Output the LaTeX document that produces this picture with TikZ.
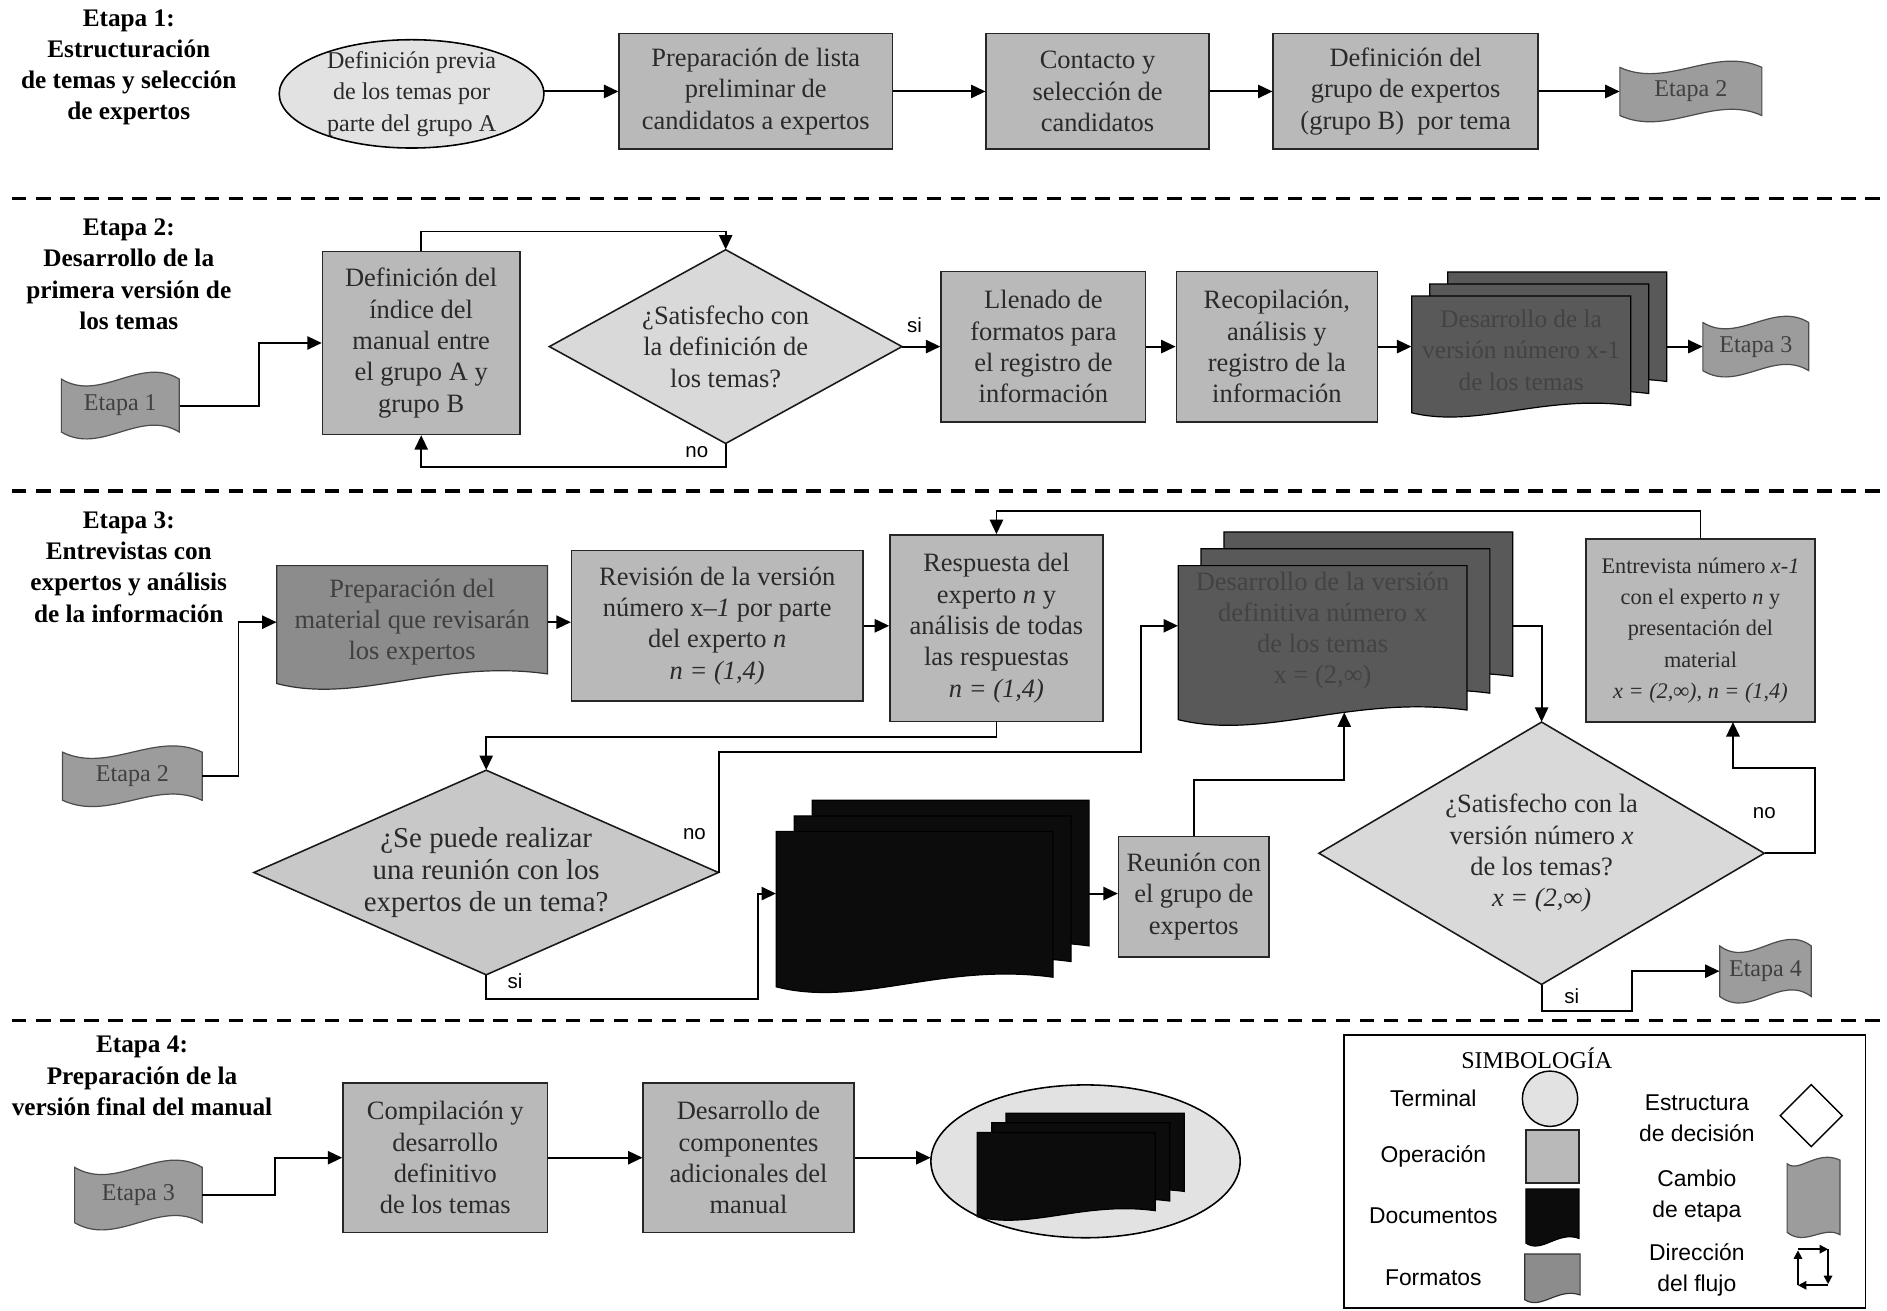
\documentclass[tikz,border=0pt]{standalone}
\usepackage{fontspec}
\setmainfont{Liberation Serif}
\newfontfamily\lsans{Liberation Sans}
\usetikzlibrary{shapes.geometric,arrows.meta,calc}
\definecolor{opgray}{HTML}{B9B9B9}
\definecolor{termgray}{HTML}{E2E2E2}
\definecolor{decgray}{HTML}{D9D9D9}
\definecolor{decdark}{HTML}{C8C8C8}
\definecolor{flaggray}{HTML}{9C9C9C}
\definecolor{docgray}{HTML}{8C8C8C}
\definecolor{mdgray}{HTML}{595959}
\definecolor{mdtext}{HTML}{434343}
\definecolor{ink}{HTML}{2A2A2A}
\definecolor{blackdoc}{HTML}{0C0C0C}
\tikzset{
  txt/.style={font=\fontsize{22}{26}\selectfont, align=center, text=ink},
  opbox/.style={txt, rectangle, draw=black!85, line width=1.3pt, fill=opgray, inner sep=1pt},
  ttl/.style={font=\bfseries\fontsize{21}{26}\selectfont, align=center},
  lab/.style={font=\lsans\fontsize{17}{20}\selectfont},
  leglab/.style={font=\lsans\fontsize{19}{26}\selectfont, align=center},
  flagsty/.style={draw=black!70, line width=1pt, fill=flaggray},
  flagtxt/.style={font=\fontsize{20}{24}\selectfont, text=black!75, inner sep=0pt},
  docsty/.style={draw=black!80, line width=1pt, fill=docgray},
  mdsty/.style={draw=black, line width=1pt, fill=mdgray},
  blksty/.style={draw=black, line width=1pt, fill=blackdoc},
  arr/.style={line width=1.6pt, -{Triangle[length=12pt,width=11pt]}},
  smallarr/.style={line width=1.4pt, -{Triangle[length=7pt,width=7pt]}},
  sep/.style={line width=2.6pt, dash pattern=on 12pt off 8pt},
}
% flag shape: name cx cy w h text
\newcommand\flagsh[6]{%
  \filldraw[flagsty] ({#2-#4/2},{#3-#5/2}) .. controls ({#2-#4/6},{#3-#5/2+0.45*#5}) and ({#2+#4/6},{#3-#5/2-0.45*#5}) .. ({#2+#4/2},{#3-#5/2})
    -- ({#2+#4/2},{#3+#5/2}) .. controls ({#2+#4/6},{#3+#5/2-0.45*#5}) and ({#2-#4/6},{#3+#5/2+0.45*#5}) .. ({#2-#4/2},{#3+#5/2}) -- cycle;
  \node[flagtxt, minimum width=#4pt, minimum height=#5pt] (#1) at (#2,#3) {#6};}
% document sheet: L T R B a style
\newcommand\docsh[6]{%
  \filldraw[#6] ({#1},{#2}) -- ({#3},{#2}) -- ({#3},{#4-#5})
    .. controls ({#1+0.6*(#3-(#1))},{#4-2.6*#5}) and ({#1+0.3*(#3-(#1))},{#4+2.2*#5}) .. ({#1},{#4}) -- cycle;}
% multi document: name L T R B dx dy a style
\newcommand\mdoc[9]{%
  \docsh{#2+2*#6}{#3}{#4}{#5-2*#7}{#8}{#9}
  \docsh{#2+#6}{#3+#7}{#4-#6}{#5-#7}{#8}{#9}
  \docsh{#2}{#3+2*#7}{#4-2*#6}{#5}{#8}{#9}
  \node[inner sep=0pt, minimum width={(#4)-(#2)}, minimum height={(#5)-(#3)}] (#1) at ({(#2+#4)/2},{(#3+#5)/2}) {};}
% decision: name cx cy w h fill nodeopts text
\newcommand\decsh[8]{%
  \filldraw[line width=1.3pt, draw=black!90, fill=#6] ({#2},{#3-#5/2}) -- ({#2+#4/2},{#3}) -- ({#2},{#3+#5/2}) -- ({#2-#4/2},{#3}) -- cycle;
  \node[txt, inner sep=0pt, minimum width=#4pt, minimum height=#5pt, #7] (#1) at (#2,#3) {#8};}
\begin{document}
\begin{tikzpicture}[x=1pt,y=-1pt]
\useasboundingbox (0,0) rectangle (1568,1089);
\fill[white] (0,0) rectangle (1568,1089);

% ---------------- separators
\draw[sep] (10,165) -- (1562,165);
\draw[sep] (10,408) -- (1562,408);
\draw[sep] (10,848) -- (1562,848);

% ---------------- Etapa 1
\node[ttl] (h1) at (107,56) {Etapa 1:\\Estructuración\\de temas y selección\\de expertos};
\filldraw[line width=1.3pt, fill=termgray] (342,78) ellipse [x radius=110, y radius=45];
\node[txt, inner sep=0pt, minimum width=220pt, minimum height=88pt, font=\fontsize{20}{26}\selectfont] (t1) at (342,78) {Definición previa\\de los temas por\\parte del grupo A};
\node[opbox, minimum width=227pt, minimum height=96pt] (b1) at (628,76) {Preparación de lista\\preliminar de\\candidatos a expertos};
\node[opbox, minimum width=185pt, minimum height=96pt] (b2) at (912,76) {Contacto y\\selección de\\candidatos};
\node[opbox, minimum width=220pt, minimum height=96pt] (b3) at (1168,76) {Definición del\\grupo de expertos\\(grupo B)\ \ por tema};
\flagsh{f2}{1405}{76}{118}{40}{Etapa 2}
\draw[arr] (t1.east |- b1.west) -- (b1.west);
\draw[arr] (b1.east) -- (b2.west);
\draw[arr] (b2.east) -- (b3.west);
\draw[arr] (b3.east) -- (f2.west);

% ---------------- Etapa 2
\node[ttl] (h2) at (107,228) {Etapa 2:\\Desarrollo de la\\primera versión de\\los temas};
\flagsh{f1}{100}{337}{98}{44}{Etapa 1}
\node[opbox, minimum width=164pt, minimum height=152pt] (b4) at (350,285) {Definición del\\índice del\\manual entre\\el grupo A y\\grupo B};
\decsh{d1}{603}{288}{293}{161}{decgray}{}{¿Satisfecho con\\la definición de\\los temas?}
\node[opbox, minimum width=170pt, minimum height=125pt] (b5) at (867,288) {Llenado de\\formatos para\\el registro de\\información};
\node[opbox, minimum width=167pt, minimum height=125pt] (b6) at (1061,288) {Recopilación,\\análisis y\\registro de la\\información};
\mdoc{md1}{1173}{226}{1385}{343}{15}{10}{6}{mdsty}
\node[txt, text=mdtext, font=\fontsize{21}{26}\selectfont] (md1t) at (1264,291) {Desarrollo de la\\versión número x-1\\de los temas};
\flagsh{f3}{1459}{288}{88}{40}{Etapa 3}
\draw[arr] (f1.east) -- ++(66,0) |- (b4.west);
\draw[arr] (b4.north) -- ++(0,-16) -| (d1.north);
\draw[arr] (d1.south) -- ++(0,19) -| (b4.south);
\draw[arr] (d1.east) -- (b5.west);
\draw[arr] (b5.east) -- (b6.west);
\draw[arr] (b6.east) -- (b6.east -| md1.west);
\draw[arr] (md1.east |- f3.west) -- (f3.west);
\node[lab] (si1) at (760,270) {si};
\node[lab] (no1) at (579,376) {no};

% ---------------- Etapa 3
\node[ttl] (h3) at (107,471) {Etapa 3:\\Entrevistas con\\expertos y análisis\\de la información};
\flagsh{f2b}{110}{645}{116}{40}{Etapa 2}
\docsh{230}{470}{455}{568}{8}{docsty}
\node[txt, inner sep=0pt, minimum width=225pt, minimum height=90pt, text=black!75] (doc1) at (342.5,517) {Preparación del\\material que revisarán\\los expertos};
\node[opbox, minimum width=242pt, minimum height=125pt] (b7) at (596,520) {Revisión de la versión\\número x–\textit{1} por parte\\del experto \textit{n}\\\textit{n = (1,4)}};
\node[opbox, minimum width=177pt, minimum height=155pt] (b8) at (828,522) {Respuesta del\\experto \textit{n} y\\análisis de todas\\las respuestas\\\textit{n = (1,4)}};
\mdoc{md2}{979}{442}{1257}{598}{19}{14}{8}{mdsty}
\node[txt, text=mdtext] (md2t) at (1099,524) {Desarrollo de la versión\\definitiva número x\\de los temas\\x = (2,∞)};
\coordinate (md2in) at (1117,592);
\node[opbox, minimum width=190pt, minimum height=152pt, font=\fontsize{18.5}{26}\selectfont] (b9) at (1413,524) {Entrevista número \textit{x-1}\\con el experto \textit{n} y\\presentación del\\material\\\textit{x = (2,∞), n = (1,4)}};
\coordinate (b9in) at (1440,600);
\decsh{d2}{404}{725}{386}{170}{decdark}{font=\fontsize{24}{26.5}\selectfont}{¿Se puede realizar\\una reunión con los\\expertos de un tema?}
\mdoc{md3}{645}{665}{905}{820}{15}{13}{8}{blksty}
\node[opbox, minimum width=125pt, minimum height=100pt] (b10) at (992,745) {Reunión con\\el grupo de\\expertos};
\decsh{d3}{1281}{709}{370}{218}{decgray}{}{¿Satisfecho con la\\versión número \textit{x}\\de los temas?\\\textit{x = (2,∞)}}
\flagsh{f4}{1467}{807}{76}{42}{Etapa 4}

\draw[arr] (f2b.east) -- ++(30,0) |- (doc1.west);
\draw[arr] (doc1.east) -- (doc1.east -| b7.west);
\draw[arr] (b7.east) -- (b7.east -| b8.west);
\draw[arr] (b9.north) -- ++(0,-23) -| (b8.north);
\draw[arr] (b8.south) -- ++(0,12) -| (d2.north);
\draw[arr] (d2.east) |- (948,625) |- (md2.west);
\draw[arr] (d2.south) |- (630,830) |- (md3.west);
\draw[arr] (md3.east) -- (md3.east -| b10.west);
\draw[arr] (b10.north) |- (1117,648) -- (md2in);
\draw[arr] (md2.east) -| (d3.north);
\draw[arr] (d3.east) -| (1508,638) -| (b9in);
\draw[arr] (d3.south) |- (1356,840) |- (f4.west);
\node[lab] (no2) at (577,693) {no};
\node[lab] (si2) at (428,815) {si};
\node[lab] (no3) at (1466,676) {no};
\node[lab] (si3) at (1306,828) {si};

% ---------------- Etapa 4
\node[ttl] (h4) at (118,894) {Etapa 4:\\Preparación de la\\versión final del manual};
\flagsh{f3b}{115}{993}{106}{46}{Etapa 3}
\node[opbox, minimum width=170pt, minimum height=124pt] (b11) at (370,962) {Compilación y\\desarrollo\\definitivo\\de los temas};
\node[opbox, minimum width=175pt, minimum height=124pt] (b12) at (622,962) {Desarrollo de\\componentes\\adicionales del\\manual};
\filldraw[line width=1.3pt, fill=termgray] (902,965) ellipse [x radius=128.5, y radius=63.5];
\node[inner sep=0pt, minimum width=257pt, minimum height=127pt] (e2) at (902,965) {};
\mdoc{md4}{812}{925}{984}{1011}{12}{8}{5}{blksty}
\draw[arr] (f3b.east) -- ++(60,0) |- (b11.west);
\draw[arr] (b11.east) -- (b11.east -| b12.west);
\draw[arr] (b12.east) -- (b12.east -| e2.west);

% ---------------- Legend
\node[draw, line width=1.3pt, inner sep=0pt, minimum width=433pt, minimum height=227pt] (leg) at (1333.5,973.5) {};
\node[font=\fontsize{20}{22}\selectfont] (legt) at (1277,879) {SIMBOLOGÍA};
\node[leglab] (l1) at (1191,913) {Terminal};
\node[circle, draw, line width=1.2pt, fill=termgray, minimum size=46pt, inner sep=0pt] (l1s) at (1288,913) {};
\node[leglab] (l2) at (1191,961) {Operación};
\node[rectangle, draw=black!85, line width=1.2pt, fill=opgray, minimum width=44pt, minimum height=44pt, inner sep=0pt] (l2s) at (1290,961) {};
\node[leglab] (l3) at (1191,1010) {Documentos};
\docsh{1268}{988}{1312}{1033}{4}{blksty}
\node[leglab] (l4) at (1191,1062) {Formatos};
\docsh{1267}{1042}{1313}{1080}{4}{docsty}
\node[leglab] (l5) at (1410,929) {Estructura\\de decisión};
\node[diamond, draw, line width=1.2pt, minimum width=52pt, minimum height=52pt, inner sep=0pt, fill=white] (l5s) at (1505,927) {};
\node[leglab] (l6) at (1410,994) {Cambio\\de etapa};
\filldraw[flagsty] (1485,967) .. controls (1495,975) and (1510,955) .. (1529,964)
  -- (1529,1026) .. controls (1515,1018) and (1500,1036) .. (1485,1024) -- cycle;
\node[leglab] (l7) at (1410,1055) {Dirección\\del flujo};
\draw[smallarr] (1494,1038) -- (1519,1038);
\draw[smallarr] (1519,1038) -- (1519,1067);
\draw[smallarr] (1519,1068) -- (1494,1068);
\draw[smallarr] (1494,1068) -- (1494,1039);
\end{tikzpicture}
\end{document}
